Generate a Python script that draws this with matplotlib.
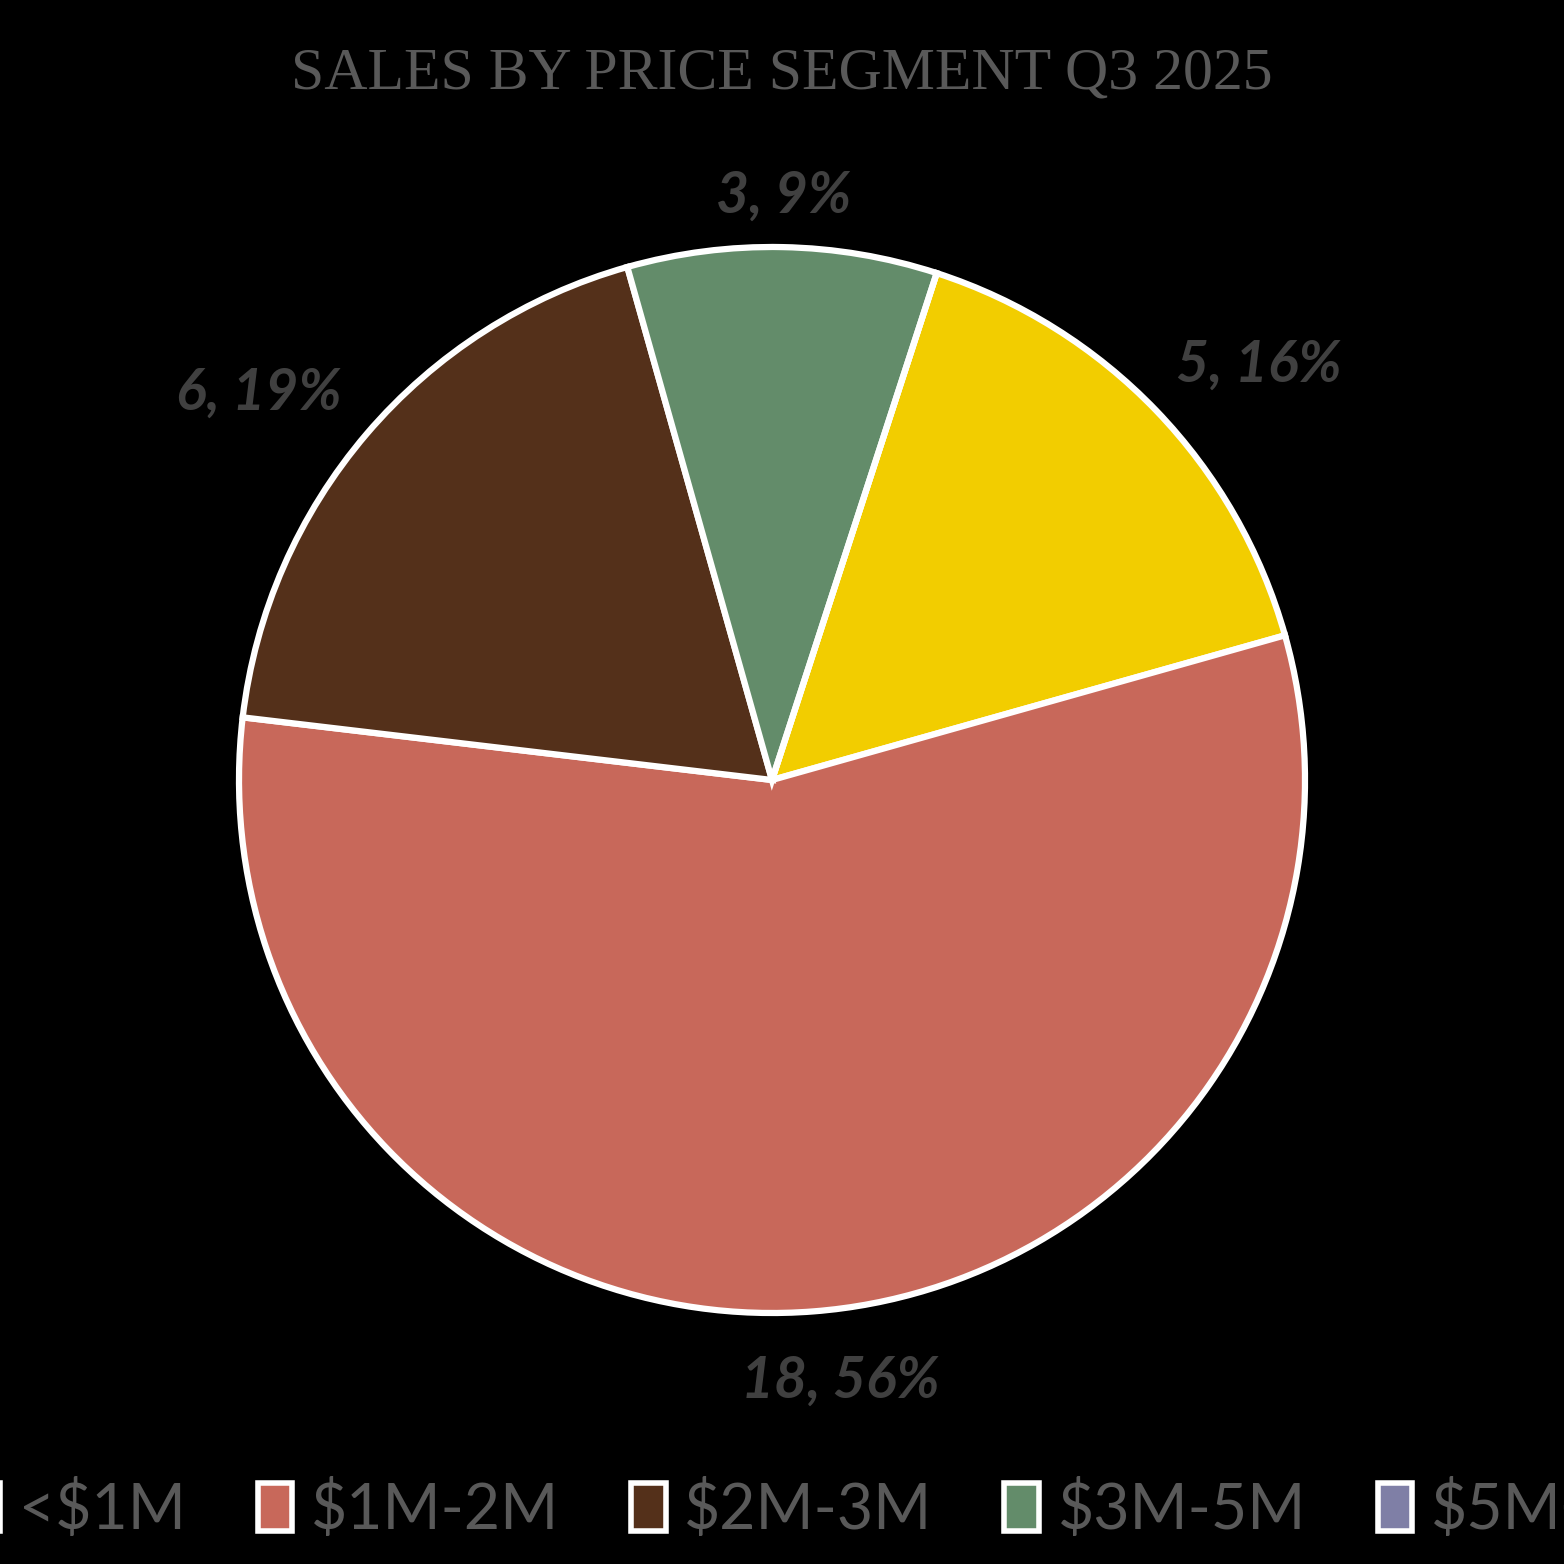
import numpy as np
import matplotlib
matplotlib.use("Agg")
import matplotlib.pyplot as plt
from matplotlib.patches import Patch

# ---- data ----
categories = ["<$1M", "$1M-2M", "$2M-3M", "$3M-5M", "$5M+"]
sales = [5, 18, 6, 3, 0]
colors = ["#F2CD00", "#C8685A", "#54301A", "#638C6A", "#7F7FA6"]
title = "SALES BY PRICE SEGMENT Q3 2025"

W = H = 1564
fig = plt.figure(figsize=(W / 100, H / 100), dpi=100, facecolor="black")
ax = fig.add_axes([0, 0, 1, 1])
ax.set_facecolor("black")
ax.set_aspect("equal")

cx, cy, r = 772, H - 780, 533
wedges, _ = ax.pie(sales, colors=colors, startangle=72, counterclock=False,
                   center=(cx, cy), radius=r, frame=True,
                   wedgeprops=dict(edgecolor="white", linewidth=4.5))
ax.set_xlim(0, W)
ax.set_ylim(0, H)
ax.axis("off")

total = sum(sales)
# label placement (distance factor, angle tweak in degrees) - style only
label_style = {0: (1.20, -3.5), 1: (1.135, 2.0), 2: (1.205, 3.5), 3: (1.095, 0.0)}
for i, w in enumerate(wedges):
    if sales[i] == 0:
        continue
    d, da = label_style[i]
    ang = np.deg2rad((w.theta1 + w.theta2) / 2 + da)
    x = cx + d * r * np.cos(ang)
    y = cy + d * r * np.sin(ang)
    ax.text(x, y, f"{sales[i]}, {round(100 * sales[i] / total)}%",
            ha="center", va="center", fontsize=41, color="#404040",
            family="Lato", weight="bold", style="italic")

fig.text(0.5, 1 - 75 / H, title, ha="center", va="center", fontsize=43,
         color="#595959", family="Liberation Serif", weight="medium")

handles = [Patch(facecolor=c, edgecolor="white", linewidth=4) for c in colors]
fig.legend(handles, categories, loc="center", bbox_to_anchor=(0.5, 1 - 1510 / H),
           ncol=5, frameon=False,
           prop=dict(family="Lato", size=45),
           labelcolor="#595959", handlelength=0.55, handleheight=0.8,
           handletextpad=0.3, columnspacing=1.15)

fig.savefig("out.png", dpi=100, facecolor="black")
